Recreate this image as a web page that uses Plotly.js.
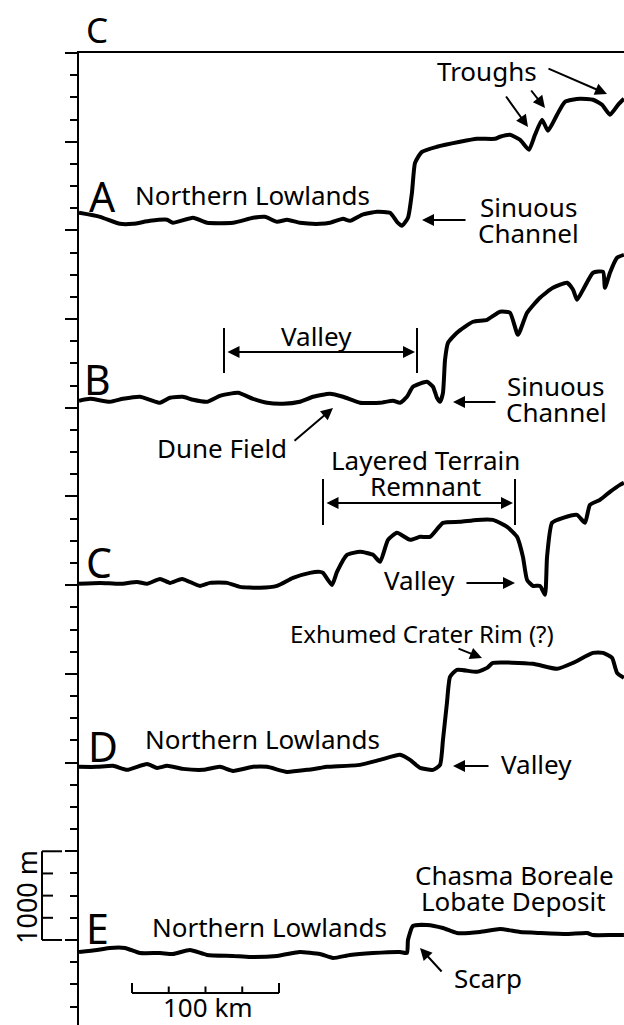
<!DOCTYPE html>
<html><head><meta charset="utf-8">
<script src="https://cdn.plot.ly/plotly-3.0.1.min.js"></script>
<style>html,body{margin:0;padding:0;background:#fff;}#chart{width:624px;height:1025px;}</style>
</head><body><div id="chart"></div>
<script>
// ---- DATA: topographic profiles (distance in km, relief in m relative to each profile's baseline) ----
const profileNames = ['A', 'B', 'C', 'D', 'E'];
const profileOffsets_m = [8000, 6000, 4000, 2000, 0];

const profileA_km = [0,14.3,27.9,36.7,48.3,59.9,63.9,77.6,87.1,104.8,118.4,126.5,134.7,141.5,150.3,163.9,170.7,179.6,184.4,192.5,202.7,211.6,216.3,219.7,223.8,226.5,228.6,233.3,243.5,259.2,270.7,283.0,286.4,293.2,300.0,306.1,310.2,315.0,319.0,325.2,330.6,340.8,349.7,355.8,361.2,366.7,370.7];
const profileA_m  = [198,153,74,74,108,120,86,142,86,86,142,153,97,120,86,74,86,131,108,176,210,198,97,52,142,424,762,886,943,999,1033,1033,1056,1078,1022,909,1078,1248,1123,1304,1450,1484,1473,1416,1304,1416,1484];

const profileB_km = [0,7.5,21.1,29.9,41.5,48.3,55.1,61.9,70.7,77.6,87.1,95.9,108.2,118.4,127.9,138.8,150.3,159.2,170.7,179.6,191.2,204.8,213.6,218.4,223.1,227.2,236.7,240.8,243.5,245.6,247.6,249.0,251.0,257.1,268.0,277.6,286.4,293.2,298.6,304.8,313.6,322.4,332.0,336.1,338.8,342.9,349.7,356.5,357.8,361.2,366.0,370.7];
const profileB_m  = [79,101,68,101,124,90,56,113,124,90,68,135,169,101,56,45,68,124,158,124,56,56,79,56,124,237,293,237,113,68,169,541,733,846,970,992,1083,1071,823,1071,1241,1353,1410,1331,1218,1331,1523,1534,1353,1523,1692,1725];

const profileC_km = [0,14.3,27.9,39.5,46.3,55.1,61.9,70.1,82.3,89.1,100.7,109.5,123.1,134.7,145.6,157.1,163.9,166.0,172.1,175.5,182.3,191.2,200.0,204.8,210.2,216.3,225.2,232.0,238.8,247.6,259.2,270.7,281.6,291.2,298.0,302.0,304.8,308.8,313.6,317.0,318.4,321.8,329.3,338.8,344.2,347.6,354.4,361.2,368.0,370.7];
const profileC_m  = [15,26,15,37,15,71,26,71,-8,26,26,-19,-30,-8,82,139,150,139,3,150,342,376,342,263,511,590,511,545,545,703,714,736,736,657,545,319,60,-8,-8,-109,319,703,759,793,703,906,962,1052,1131,1154];

const profileD_km = [0,12.2,23.1,32.7,46.3,53.1,59.9,70.7,84.4,95.9,104.8,118.4,127.9,141.5,155.1,163.9,168.7,191.2,204.8,218.4,225.2,232.0,240.8,245.6,247.6,250.3,252.4,257.1,270.7,277.6,281.6,308.8,325.2,336.1,349.7,356.5,362.6,366.0,370.7];
const profileD_m  = [-48,-48,-37,-82,-15,-60,-37,-71,-82,-48,-94,-48,-48,-105,-82,-60,-48,-26,30,87,30,-60,-82,-26,256,673,966,1045,1023,1068,1124,1113,1057,1124,1237,1237,1181,1012,955];

const profileE_km = [0,12.2,21.1,31.3,41.5,55.1,63.9,75.5,87.1,104.8,116.3,134.7,145.6,150.3,163.9,172.8,184.4,200.0,218.4,223.1,223.8,227.2,236.7,247.6,257.1,272.8,286.4,300.0,313.6,332.0,345.6,349.7,363.3,370.7];
const profileE_m  = [-135,-113,-90,-90,-147,-147,-158,-113,-169,-180,-192,-180,-147,-135,-158,-203,-169,-147,-135,-147,0,158,169,135,79,90,124,90,79,68,79,56,56,56];

const scaleBarKm = 100, scaleBarDivs = 4;
const verticalScaleM = 1000, verticalScaleDivs = 4;

// ---- LAYOUT GEOMETRY ----
const FONT = '"Noto Sans", "Open Sans", sans-serif';
const W = 624, H = 1025, L = 79, T = 53;
const xRange = [0, 370.75], yRange = [-958.6, 10000];
const plotW = W - L, plotH = H - T;
const dx = p => xRange[0] + (p - L) / plotW * (xRange[1] - xRange[0]);
const dy = p => yRange[1] - (p - T) / plotH * (yRange[1] - yRange[0]);
const paperX = p => (p - L) / plotW;
const paperY = p => (H - p) / plotH;

const kms = [profileA_km, profileB_km, profileC_km, profileD_km, profileE_km];
const ms = [profileA_m, profileB_m, profileC_m, profileD_m, profileE_m];
const traces = profileNames.map((n, i) => ({
  type: 'scatter', mode: 'lines', name: n,
  x: kms[i], y: ms[i].map(v => v + profileOffsets_m[i]),
  line: {color: '#000', width: 4, shape: 'spline', smoothing: 0.5},
  hoverinfo: 'skip'
}));

const majorTicks = [], minorTicks = [];
for (let v = -750; v <= 10000; v += 250) {
  if (v % 1000 === 0) { if (v >= 0) majorTicks.push(v); } else minorTicks.push(v);
}

function label(text, cx, cy, size) {
  return {text: text, x: dx(cx), y: dy(cy), xref: 'x', yref: 'y', showarrow: false,
    xanchor: 'center', yanchor: 'middle', font: {family: FONT, size: size || 26, color: '#000'}};
}
function arrow(hx, hy, tx, ty, both) {
  return {text: '', x: dx(hx), y: dy(hy), ax: tx - hx, ay: ty - hy, xref: 'x', yref: 'y',
    showarrow: true, arrowhead: 2, arrowsize: 1.2, arrowwidth: 2, arrowcolor: '#000',
    arrowside: both ? 'end+start' : 'end', startarrowhead: 2, startarrowsize: 1.2, standoff: 0, startstandoff: 0};
}
function seg(x0, y0, x1, y1) {
  return {type: 'line', xref: 'x', yref: 'y', x0: dx(x0), y0: dy(y0), x1: dx(x1), y1: dy(y1),
    line: {color: '#000', width: 2}};
}

const annotations = [
  {text: 'C', x: paperX(96.5), y: paperY(29.5), xref: 'paper', yref: 'paper', showarrow: false,
   xanchor: 'center', yanchor: 'middle', font: {family: FONT, size: 35, color: '#000'}},
  label('A', 102.5, 196, 41), label('B', 97.5, 378.5, 41), label('C', 99, 562, 41),
  label('D', 102.5, 745.5, 41), label('E', 97.5, 927.5, 41),
  label('Northern Lowlands', 252, 194.5), label('Troughs', 486.5, 70.5),
  label('Sinuous', 528.5, 206.5), label('Channel', 528.5, 232.5),
  label('Valley', 316.5, 336), label('Sinuous', 555.5, 386), label('Channel', 556, 412),
  label('Dune Field', 222, 448),
  label('Layered Terrain', 425, 460), label('Remnant', 425, 486), label('Valley', 419.5, 580),
  label('Exhumed Crater Rim (?)', 421.5, 633, 24), label('Northern Lowlands', 262.5, 739),
  label('Valley', 536.5, 764),
  label('Northern Lowlands', 269, 927), label('Chasma Boreale', 514, 875), label('Lobate Deposit', 513.5, 901),
  label('Scarp', 487.5, 977.5), label('100 km', 207.5, 1006.5, 26),
  {text: '1000 m', x: paperX(26), y: dy(897), xref: 'paper', yref: 'y', showarrow: false, textangle: -90,
   xanchor: 'center', yanchor: 'middle', font: {family: FONT, size: 27, color: '#000'}},
  arrow(607, 94, 547, 68), arrow(545, 108, 530, 89), arrow(528, 127, 505, 95),
  arrow(422, 220, 467, 220),
  arrow(415, 352, 226, 352, true), arrow(453, 402, 497, 402), arrow(333, 408, 293, 442),
  arrow(513, 503, 325, 503, true), arrow(515, 583, 465, 583),
  arrow(482, 658, 457, 648), arrow(453, 766, 490, 766), arrow(420, 948, 443, 973)
];

const shapes = [
  seg(224, 328, 224, 373), seg(417, 328, 417, 373),
  seg(323, 479, 323, 525), seg(515, 479, 515, 525)
];
// horizontal scale bar (100 km)
const sbX0 = 36.05, sbY = dy(993), sbTop = dy(983), sbMid = dy(986.5);
shapes.push({type: 'line', xref: 'x', yref: 'y', x0: sbX0, x1: sbX0 + scaleBarKm, y0: sbY, y1: sbY, line: {color: '#000', width: 2}});
for (let i = 0; i <= scaleBarDivs; i++) {
  const xx = sbX0 + scaleBarKm * i / scaleBarDivs;
  const top = (i === 0 || i === scaleBarDivs) ? sbTop : sbMid;
  shapes.push({type: 'line', xref: 'x', yref: 'y', x0: xx, x1: xx, y0: sbY, y1: top, line: {color: '#000', width: 2}});
}
// vertical scale bracket (1000 m)
const bx = paperX(42), bxLong = paperX(62), bxShort = paperX(53);
shapes.push({type: 'line', xref: 'paper', yref: 'y', x0: bx, x1: bx, y0: 0, y1: verticalScaleM, line: {color: '#000', width: 2}});
for (let i = 0; i <= verticalScaleDivs; i++) {
  const yy = verticalScaleM * i / verticalScaleDivs;
  const x1 = (i === 0 || i === verticalScaleDivs) ? bxLong : bxShort;
  shapes.push({type: 'line', xref: 'paper', yref: 'y', x0: bx, x1: x1, y0: yy, y1: yy, line: {color: '#000', width: 2}});
}

const layout = {
  width: W, height: H, margin: {l: L, r: 0, t: T, b: 0, pad: 0},
  paper_bgcolor: '#fff', plot_bgcolor: '#fff', showlegend: false,
  xaxis: {range: xRange, side: 'top', showline: true, linewidth: 2, linecolor: '#000',
    ticks: '', showticklabels: false, showgrid: false, zeroline: false, fixedrange: true},
  yaxis: {range: yRange, showline: true, linewidth: 2, linecolor: '#000', showgrid: false, zeroline: false,
    tickmode: 'array', tickvals: majorTicks, ticks: 'outside', ticklen: 12, tickwidth: 2, tickcolor: '#000',
    showticklabels: false, fixedrange: true,
    minor: {tickmode: 'array', tickvals: minorTicks, ticks: 'outside', ticklen: 7, tickwidth: 2, tickcolor: '#000', showgrid: false}},
  annotations: annotations, shapes: shapes
};

Plotly.newPlot('chart', traces, layout, {displayModeBar: false, staticPlot: true});
</script></body></html>
